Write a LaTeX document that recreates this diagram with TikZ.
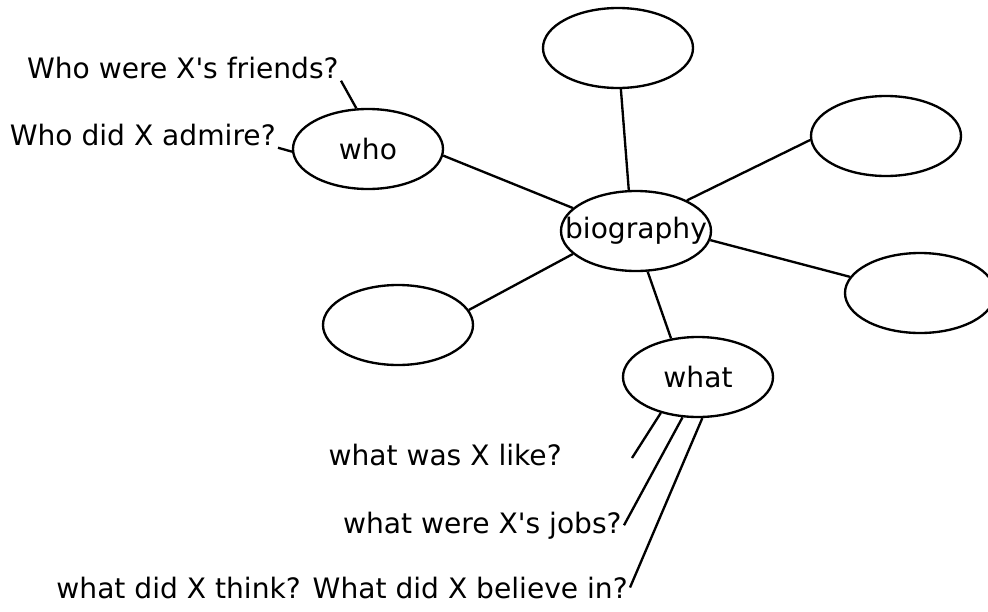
\documentclass[tikz,border=0pt]{standalone}
\usepackage{fontspec}
\newfontfamily\handfont{DejaVu Sans}
\usetikzlibrary{shapes.geometric}

\begin{document}
\begin{tikzpicture}[x=0.03cm, y=-0.03cm, line width=2pt,
    bubble/.style={draw, ellipse, minimum width=4.5cm, minimum height=2.4cm,
        font=\handfont\fontsize{24}{28}\selectfont},
    question/.style={anchor=base east, inner sep=1pt,
        font=\handfont\fontsize{24}{28}\selectfont}]
    \useasboundingbox (0, 0) rectangle (988, 611);
    \node[bubble, label={[font=\handfont\fontsize{24}{28}\selectfont]center:biography}] (bio) at (636, 231) {};
    \node[bubble] (top) at (618, 48) {};
    \node[bubble] (who) at (368, 149) {who};
    \node[bubble] (upright) at (886, 136) {};
    \node[bubble] (lowright) at (920, 293) {};
    \node[bubble] (lowleft) at (398, 325) {};
    \node[bubble] (what) at (698, 377) {what};
    \draw (bio.100) -- (top.274);
    \draw (bio.160) -- (who.355);
    \draw (bio.31) -- (upright.183);
    \draw (bio.353) -- (lowright.167);
    \draw (bio.200) -- (lowleft.12);
    \draw (bio.286) -- (what.125);

    \node[question] (friends) at (341, 78) {Who were X's friends?};
    \node[question] (admire) at (278, 145) {Who did X admire?};
    \draw (friends.south east) -- (who.106);
    \draw (admire.south east) -- (who.182);

    \node[question] (like) at (564, 465) {what was X like?};
    \node[question] (jobs) at (624, 533) {what were X's jobs?};
    \node[question] (believe) at (630, 598) {what did X think? What did X believe in?};
    \coordinate (likeend) at (632, 458);
    \draw (what.224) -- (likeend);
    \draw (what.249) -- (jobs.east);
    \draw (what.276) -- (believe.east);
\end{tikzpicture}
\end{document}
